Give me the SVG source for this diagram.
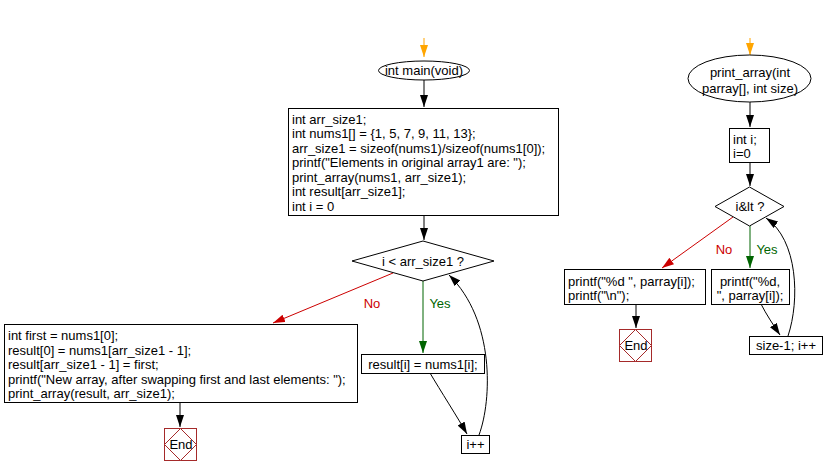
<svg xmlns="http://www.w3.org/2000/svg" width="824" height="476" viewBox="0 0 824 476">
<style>
text{font-family:"Liberation Sans",Arial,sans-serif;font-size:13px;fill:#000}
.n{fill:#fff;stroke:#000;stroke-width:1}
.e{fill:none;stroke:#000;stroke-width:1}
.r{stroke:#cc0000}
.g{stroke:#006400}
.o{stroke:#ffa500}
.end{fill:#fff;stroke:#a52a2a;stroke-width:1}
.c{text-anchor:middle}
</style>
<defs>
<marker id="ak" markerUnits="userSpaceOnUse" markerWidth="13" markerHeight="9" refX="12" refY="4" orient="auto"><path d="M0,0 L12,4 L0,8 z" fill="#000"/></marker>
<marker id="ar" markerUnits="userSpaceOnUse" markerWidth="13" markerHeight="9" refX="12" refY="4" orient="auto"><path d="M0,0 L12,4 L0,8 z" fill="#cc0000"/></marker>
<marker id="ag" markerUnits="userSpaceOnUse" markerWidth="13" markerHeight="9" refX="12" refY="4" orient="auto"><path d="M0,0 L12,4 L0,8 z" fill="#006400"/></marker>
<marker id="ao" markerUnits="userSpaceOnUse" markerWidth="13" markerHeight="9" refX="12" refY="4" orient="auto"><path d="M0,0 L12,4 L0,8 z" fill="#ffa500"/></marker>
</defs>
<rect width="824" height="476" fill="#fff"/>

<g id="connectors">
<line class="e o" x1="424" y1="38" x2="424" y2="57" marker-end="url(#ao)"/>
<line class="e" x1="424" y1="80" x2="424" y2="107" marker-end="url(#ak)"/>
<line class="e" x1="424" y1="215" x2="424" y2="240" marker-end="url(#ak)"/>
<line class="e r" x1="393" y1="273" x2="273" y2="323" marker-end="url(#ar)"/>
<text x="372" y="308" class="c" style="fill:#cc0000">No</text>
<line class="e g" x1="423" y1="281" x2="423" y2="353" marker-end="url(#ag)"/>
<text x="440" y="308" class="c" style="fill:#006400">Yes</text>
<line class="e" x1="180" y1="402" x2="180" y2="427" marker-end="url(#ak)"/>
<path class="e" d="M430,373 C440,390 458,418 467,434" marker-end="url(#ak)"/>
<path class="e" d="M479,435 C492,400 495,320 449,275" marker-end="url(#ak)"/>

<line class="e o" x1="750" y1="38" x2="750" y2="55" marker-end="url(#ao)"/>
<line class="e" x1="750" y1="102" x2="750" y2="127" marker-end="url(#ak)"/>
<line class="e" x1="750" y1="162" x2="750" y2="186" marker-end="url(#ak)"/>
<line class="e r" x1="733" y1="217" x2="662" y2="268" marker-end="url(#ar)"/>
<text x="724" y="254" class="c" style="fill:#cc0000">No</text>
<line class="e g" x1="750" y1="226" x2="750" y2="268" marker-end="url(#ag)"/>
<text x="767" y="254" class="c" style="fill:#006400">Yes</text>
<line class="e" x1="636" y1="304" x2="636" y2="328" marker-end="url(#ak)"/>
<path class="e" d="M761,304 C766,314 774,326 780,335" marker-end="url(#ak)"/>
<path class="e" d="M788,336 C800,300 798,240 766,218" marker-end="url(#ak)"/>
</g>

<g id="main_start">
<ellipse class="n" cx="424" cy="70.5" rx="45.5" ry="9.5"/>
<text x="424" y="75" class="c">int main(void)</text>
</g>

<g id="main_init">
<rect class="n" x="288.5" y="108.5" width="270" height="107"/>
<text x="292" y="123.5">int arr_size1;</text>
<text x="292" y="138">int nums1[] = {1, 5, 7, 9, 11, 13};</text>
<text x="292" y="152.6">arr_size1 = sizeof(nums1)/sizeof(nums1[0]);</text>
<text x="292" y="167.2">printf("Elements in original array1 are: ");</text>
<text x="292" y="181.8">print_array(nums1, arr_size1);</text>
<text x="292" y="196.4">int result[arr_size1];</text>
<text x="292" y="211">int i = 0</text>
</g>

<g id="main_cond">
<polygon class="n" points="423,241 494,261 423,281 352,261"/>
<text x="423" y="265.5" class="c">i &lt; arr_size1 ?</text>
</g>

<g id="main_swap">
<rect class="n" x="4.5" y="324.5" width="353" height="78"/>
<text x="8" y="340">int first = nums1[0];</text>
<text x="8" y="354.5">result[0] = nums1[arr_size1 - 1];</text>
<text x="8" y="369">result[arr_size1 - 1] = first;</text>
<text x="8" y="383.5">printf("New array, after swapping first and last elements: ");</text>
<text x="8" y="398">print_array(result, arr_size1);</text>
</g>

<g id="main_end">
<rect class="end" x="164.5" y="428.5" width="32" height="32"/>
<polygon class="end" points="180.5,428.5 196.5,444.5 180.5,460.5 164.5,444.5"/>
<text x="181" y="449" class="c">End</text>
</g>

<g id="main_copy">
<rect class="n" x="361.5" y="354.5" width="123" height="19"/>
<text x="423" y="368.5" class="c">result[i] = nums1[i];</text>
</g>

<g id="main_inc">
<rect class="n" x="461.5" y="435.5" width="28" height="18"/>
<text x="475.5" y="449" class="c">i++</text>
</g>

<g id="pa_start">
<ellipse class="n" cx="749.5" cy="78.5" rx="61.5" ry="23.5"/>
<text x="750" y="77" class="c">print_array(int</text>
<text x="750" y="93" class="c">parray[], int size)</text>
</g>

<g id="pa_init">
<rect class="n" x="729.5" y="128.5" width="40" height="34"/>
<text x="733" y="143.5">int i;</text>
<text x="733" y="158">i=0</text>
</g>

<g id="pa_cond">
<polygon class="n" points="749.5,187 784,206.5 749.5,226 715,206.5"/>
<text x="750" y="211" class="c">i&amp;lt ?</text>
</g>

<g id="pa_tail">
<rect class="n" x="564.5" y="269.5" width="141" height="35"/>
<text x="568" y="285.5">printf("%d ", parray[i]);</text>
<text x="568" y="300">printf("\n");</text>
</g>

<g id="pa_end">
<rect class="end" x="619.5" y="329.5" width="32" height="32"/>
<polygon class="end" points="635.5,329.5 651.5,345.5 635.5,361.5 619.5,345.5"/>
<text x="636" y="350" class="c">End</text>
</g>

<g id="pa_print">
<rect class="n" x="711.5" y="269.5" width="78" height="35"/>
<text x="750" y="285.5" class="c">printf("%d,</text>
<text x="750" y="300" class="c">", parray[i]);</text>
</g>

<g id="pa_inc">
<rect class="n" x="749.5" y="336.5" width="73" height="18"/>
<text x="786" y="350" class="c">size-1; i++</text>
</g>
</svg>
